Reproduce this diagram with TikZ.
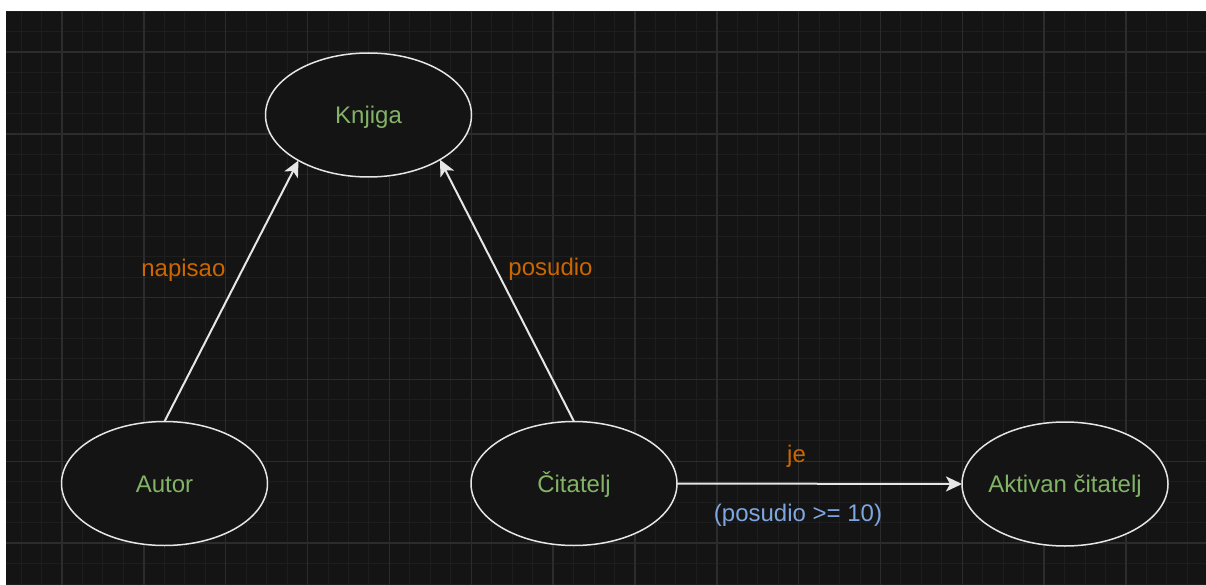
\documentclass[tikz,border=0pt]{standalone}
\usepackage{fontspec}
\setmainfont{Liberation Sans}
\usetikzlibrary{arrows.meta,shapes.geometric}
\definecolor{bgc}{HTML}{141414}
\definecolor{minorc}{HTML}{1E1E1E}
\definecolor{majorc}{HTML}{2C2C2C}
\definecolor{strokec}{HTML}{E6E6E6}
\definecolor{greent}{HTML}{82B366}
\definecolor{oranget}{HTML}{CC6600}
\definecolor{bluet}{HTML}{7EA6E0}
\newcommand{\zb}[1]{\makebox[0pt]{#1}}
\tikzset{
  ell/.style={ellipse, draw=strokec, line width=1.5pt, fill=bgc,
    minimum width=206pt, minimum height=124pt, inner sep=0pt, outer sep=0pt,
    text=greent, font=\fontsize{24}{28}\selectfont, text height=17pt, text depth=0pt},
  edge/.style={draw=strokec, line width=2pt,
    -{Stealth[length=16pt,width=15pt,inset=4pt,fill=strokec]}},
  lab/.style={font=\fontsize{24}{28}\selectfont, inner sep=0pt, anchor=base},
  minorline/.style={draw=minorc, line width=1pt},
  majorline/.style={draw=majorc, line width=1.5pt}
}
\begin{document}
\begin{tikzpicture}[x=1pt,y=-1pt]
\useasboundingbox (0,0) rectangle (1206,585);
\fill[white] (0,0) rectangle (1206,585);
\fill[bgc] (6,11) rectangle (1206,585);
\begin{scope}
\clip (6,11) rectangle (1206,585);
\foreach \i in {-3,...,56} { \draw[minorline] ({62+20.4625*\i},11) -- ({62+20.4625*\i},585); }
\foreach \i in {-2,...,26} { \draw[minorline] (6,{52+20.4625*\i}) -- (1206,{52+20.4625*\i}); }
\foreach \i in {-1,...,14} { \draw[majorline] ({62+81.85*\i},11) -- ({62+81.85*\i},585); }
\foreach \i in {-1,...,7} { \draw[majorline] (6,{52+81.85*\i}) -- (1206,{52+81.85*\i}); }
\end{scope}

\node[ell] (knjiga) at (368.5,115) {\zb{Knjiga}};
\node[ell] (autor) at (164.5,483.5) {\zb{Autor}};
\node[ell] (citatelj) at (574,483.5) {\zb{Čitatelj}};
\node[ell] (aktivan) at (1065,484) {\zb{Aktivan čitatelj}};

\draw[edge] (autor.north) -- (knjiga.213);
\draw[edge] (citatelj.north) -- (knjiga.328);
\draw[edge] (citatelj.east) -- (aktivan.west);

\node[lab, text=oranget] (l1) at (183.4,276) {napisao};
\node[lab, text=oranget] (l2) at (550.5,275) {posudio};
\node[lab, text=oranget] (l3) at (796.5,462) {je};
\node[lab, text=bluet] (l4) at (798,521) {(posudio >= 10)};
\end{tikzpicture}
\end{document}
